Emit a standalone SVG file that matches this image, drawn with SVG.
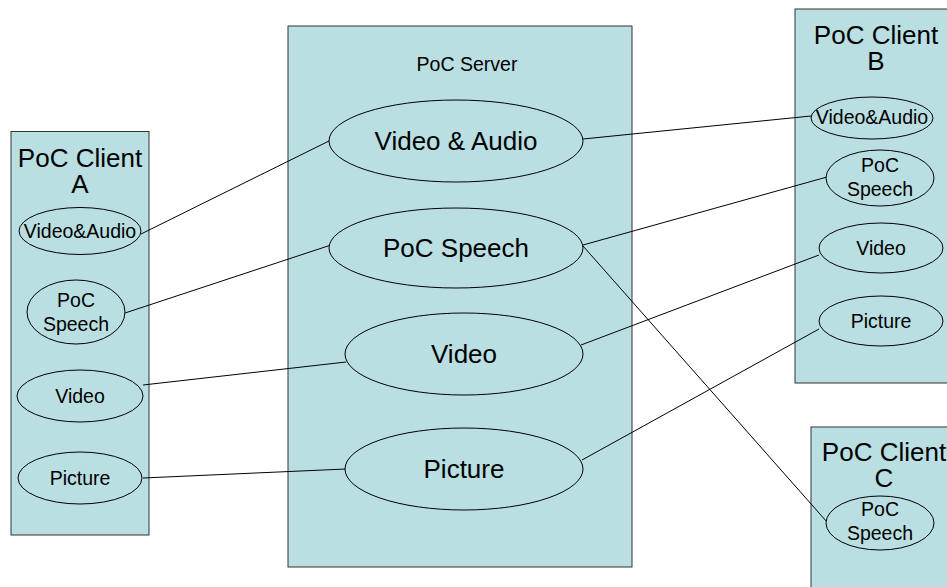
<svg xmlns="http://www.w3.org/2000/svg" width="947" height="587" viewBox="0 0 947 587">
<defs>
<style>
.box{fill:#BADFE2;stroke:#333;stroke-width:1}
.ell{fill:#BADFE2;stroke:#000;stroke-width:1}
text{font-family:"Liberation Sans",Arial,sans-serif;fill:#000;text-anchor:middle}
.big{font-size:26px}
.small{font-size:19.5px}
.conn line{stroke:#000;stroke-width:1}
</style>
</defs>
<rect width="947" height="587" fill="#fff"/>

<g id="clientA">
<rect class="box" x="11" y="131.5" width="138" height="403.5"/>
<text class="big" x="80" y="167">PoC Client</text>
<text class="big" x="80" y="193">A</text>
</g>
<g id="server">
<rect class="box" x="288" y="26" width="344" height="541"/>
<text class="small" x="467" y="71">PoC Server</text>
</g>
<g id="clientB">
<rect class="box" x="795" y="9" width="160" height="374"/>
<text class="big" x="876" y="44">PoC Client</text>
<text class="big" x="876" y="70">B</text>
</g>
<g id="clientC">
<rect class="box" x="811" y="427" width="150" height="170"/>
<text class="big" x="884" y="461">PoC Client</text>
<text class="big" x="884" y="487">C</text>
</g>

<g class="conn" id="connectors">
<line x1="141" y1="234" x2="331" y2="140"/>
<line x1="125" y1="313" x2="331" y2="245"/>
<line x1="143" y1="385" x2="346" y2="362"/>
<line x1="143" y1="478" x2="346" y2="469"/>
<line x1="583" y1="139" x2="811" y2="116"/>
<line x1="583" y1="245" x2="827" y2="177"/>
<line x1="583" y1="246" x2="827" y2="522"/>
<line x1="581" y1="345" x2="819" y2="255"/>
<line x1="582" y1="460" x2="819" y2="329"/>
</g>

<g id="a-va"><ellipse class="ell" cx="80" cy="231" rx="61" ry="23.5"/><text class="small" x="80" y="238">Video&amp;Audio</text></g>
<g id="a-speech"><ellipse class="ell" cx="76" cy="312" rx="49" ry="32"/><text class="small" x="76" y="307">PoC</text><text class="small" x="76" y="331">Speech</text></g>
<g id="a-video"><ellipse class="ell" cx="80" cy="396" rx="63" ry="26"/><text class="small" x="80" y="403">Video</text></g>
<g id="a-picture"><ellipse class="ell" cx="80" cy="478" rx="62" ry="26"/><text class="small" x="80" y="485">Picture</text></g>

<g id="s-va"><ellipse class="ell" cx="456" cy="141" rx="127" ry="41"/><text class="big" x="456" y="150">Video &amp; Audio</text></g>
<g id="s-speech"><ellipse class="ell" cx="456" cy="248" rx="127" ry="40"/><text class="big" x="456" y="257">PoC Speech</text></g>
<g id="s-video"><ellipse class="ell" cx="464" cy="354" rx="119" ry="41"/><text class="big" x="464" y="363">Video</text></g>
<g id="s-picture"><ellipse class="ell" cx="464" cy="469" rx="119" ry="41"/><text class="big" x="464" y="478">Picture</text></g>

<g id="b-va"><ellipse class="ell" cx="872" cy="118" rx="61" ry="21"/><text class="small" x="872" y="124">Video&amp;Audio</text></g>
<g id="b-speech"><ellipse class="ell" cx="880" cy="178" rx="54" ry="28"/><text class="small" x="880" y="172">PoC</text><text class="small" x="880" y="196">Speech</text></g>
<g id="b-video"><ellipse class="ell" cx="881" cy="248" rx="62" ry="25"/><text class="small" x="881" y="255">Video</text></g>
<g id="b-picture"><ellipse class="ell" cx="881" cy="321" rx="62" ry="25"/><text class="small" x="881" y="328">Picture</text></g>

<g id="c-speech"><ellipse class="ell" cx="880" cy="523" rx="54" ry="27"/><text class="small" x="880" y="516">PoC</text><text class="small" x="880" y="540">Speech</text></g>
</svg>
